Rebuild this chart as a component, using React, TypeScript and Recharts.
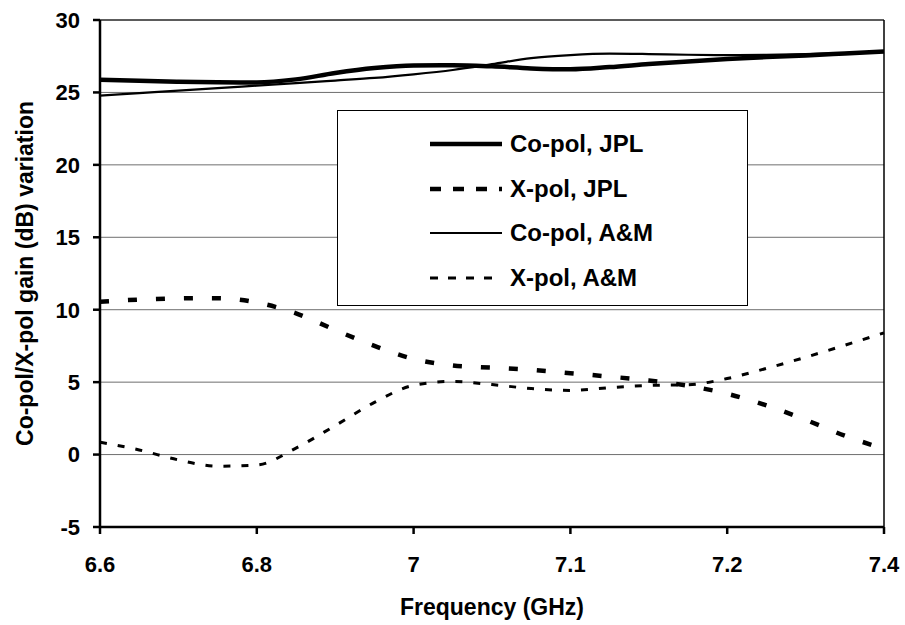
import { LineChart, Line, XAxis, YAxis, CartesianGrid, Legend, ReferenceLine } from "recharts";

// x positions on the category-like frequency axis (0 = 6.6 ... 5 = 7.4)
const positions = [0, 0.25, 0.5, 0.75, 1, 1.25, 1.5, 1.75, 2, 2.25, 2.5, 2.75, 3, 3.25, 3.5, 3.75, 4, 4.25, 4.5, 4.75, 5];
const freqLabels = ["6.6", "6.8", "7", "7.1", "7.2", "7.4"];
const yTicks = [-5, 0, 5, 10, 15, 20, 25, 30];

const coPolJPL = [25.88, 25.8, 25.74, 25.7, 25.69, 25.9, 26.34, 26.68, 26.86, 26.88, 26.8, 26.66, 26.6, 26.75, 26.96, 27.14, 27.3, 27.44, 27.55, 27.69, 27.83];
const xPolJPL = [10.55, 10.7, 10.78, 10.8, 10.5, 9.75, 8.6, 7.5, 6.6, 6.15, 6.0, 5.85, 5.62, 5.38, 5.12, 4.75, 4.2, 3.4, 2.4, 1.3, 0.4];
const coPolAM = [24.78, 24.95, 25.12, 25.3, 25.47, 25.64, 25.82, 26.0, 26.25, 26.55, 26.95, 27.37, 27.58, 27.68, 27.65, 27.6, 27.58, 27.6, 27.65, 27.72, 27.83];
const xPolAM = [0.85, 0.32, -0.37, -0.8, -0.72, 0.45, 2.0, 3.6, 4.78, 5.05, 4.83, 4.56, 4.43, 4.62, 4.77, 4.82, 5.25, 5.95, 6.72, 7.55, 8.4];

const data = positions.map((p, i) => ({
  pos: p,
  coJPL: coPolJPL[i],
  xJPL: xPolJPL[i],
  coAM: coPolAM[i],
  xAM: xPolAM[i],
}));

const series = [
  { key: "coJPL", name: "Co-pol, JPL", width: 4.5, dash: undefined, legendDash: undefined },
  { key: "xJPL", name: "X-pol, JPL", width: 4.5, dash: "9 19", legendDash: "11 12" },
  { key: "coAM", name: "Co-pol, A&M", width: 2.2, dash: undefined, legendDash: undefined },
  { key: "xAM", name: "X-pol, A&M", width: 3, dash: "7 11", legendDash: "8 10" },
];

const FONT = "'Liberation Sans', Arial, sans-serif";

function LegendBox() {
  return (
    <div
      style={{
        width: 411,
        height: 196,
        boxSizing: "border-box",
        border: "1.5px solid #000",
        background: "#fff",
        position: "relative",
        fontFamily: FONT,
      }}
    >
      {series.map((s, i) => (
        <div
          key={s.key}
          style={{ position: "absolute", left: 92, top: 33 + i * 44.7 - 14, height: 28, display: "flex", alignItems: "center" }}
        >
          <svg width={72} height={10} style={{ display: "block" }}>
            <line x1={0} y1={5} x2={72} y2={5} stroke="#000" strokeWidth={s.width} strokeDasharray={s.legendDash} />
          </svg>
          <span style={{ marginLeft: 8, fontSize: 24, fontWeight: "bold", color: "#000", whiteSpace: "nowrap" }}>{s.name}</span>
        </div>
      ))}
    </div>
  );
}

function YTitle(props: any) {
  const vb = props.viewBox || { x: 0, y: 20, width: 100, height: 507 };
  const cx = 25;
  const cy = vb.y + vb.height / 2;
  return (
    <text
      x={cx}
      y={cy}
      transform={`rotate(-90 ${cx} ${cy})`}
      textAnchor="middle"
      dominantBaseline="central"
      style={{ fontFamily: FONT, fontSize: 23, fontWeight: "bold", fill: "#000" }}
    >
      Co-pol/X-pol gain (dB) variation
    </text>
  );
}

export default function App() {
  const tickStyle = { fontFamily: FONT, fontSize: 22, fontWeight: "bold", fill: "#000" };
  return (
    <div style={{ position: "absolute", left: 0, top: 0, width: 905, height: 625, background: "#fff", fontFamily: FONT }}>
      <LineChart width={905} height={625} data={data} margin={{ top: 20, right: 21, bottom: 0, left: 0 }}>
        <CartesianGrid horizontal vertical={false} stroke="#6e6e6e" strokeWidth={1} />
        <XAxis
          dataKey="pos"
          type="number"
          domain={[0, 5]}
          ticks={[0, 1, 2, 3, 4, 5]}
          tickFormatter={(v: number) => freqLabels[v]}
          height={98}
          stroke="#000"
          strokeWidth={2.5}
          tickSize={7}
          tickMargin={22}
          tick={tickStyle}
          label={{
            value: "Frequency (GHz)",
            position: "insideBottom",
            offset: 10,
            style: { fontFamily: FONT, fontSize: 23, fontWeight: "bold", fill: "#000" },
          }}
        />
        <YAxis
          type="number"
          domain={[-5, 30]}
          ticks={yTicks}
          width={100}
          stroke="#000"
          strokeWidth={2.5}
          tickSize={7}
          tickMargin={13}
          tick={tickStyle}
          label={<YTitle />}
        />
        <ReferenceLine x={5} stroke="#000" strokeWidth={1.5} />
        <ReferenceLine y={30} stroke="#000" strokeWidth={1} />
        {series.map((s) => (
          <Line
            key={s.key}
            dataKey={s.key}
            name={s.name}
            type="monotone"
            stroke="#000"
            strokeWidth={s.width}
            strokeDasharray={s.dash}
            dot={false}
            activeDot={false}
            isAnimationActive={false}
          />
        ))}
        <Legend
          layout="vertical"
          align="center"
          verticalAlign="middle"
          content={() => <LegendBox />}
          wrapperStyle={{ left: 337, top: 110, width: 411, height: 196 }}
        />
      </LineChart>
    </div>
  );
}
